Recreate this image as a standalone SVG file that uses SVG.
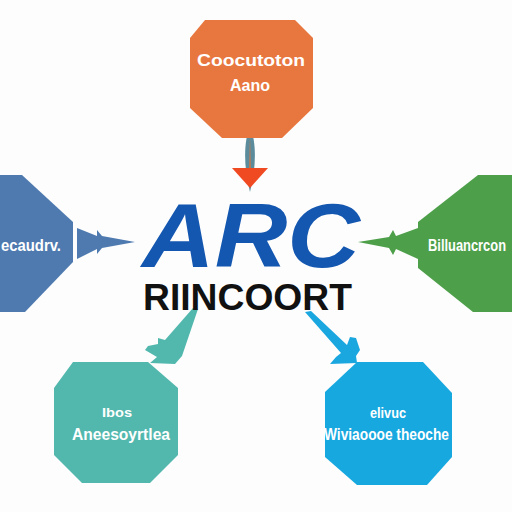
<svg xmlns="http://www.w3.org/2000/svg" width="512" height="512" viewBox="0 0 512 512">
<style>
.lbl{font-family:"Liberation Sans",Arial,sans-serif;font-weight:bold;fill:#ffffff;}
</style>
<rect width="512" height="512" fill="#fdfdfd"/>
<g id="connectors">
  <path d="M250,127 C256,140 257,165 250,192 C243,165 244,140 250,127 Z" fill="#5c8c9c"/>
  <path d="M250,135 L251,180 L249,180 Z" fill="#d8743f"/>
  <polygon points="232,168 268,168 250,188" fill="#f04a23"/>
  <polygon points="77,228 97,236 97,230 102,236 135,242 102,248 97,254 97,249 77,259" fill="#4e7ab0"/>
  <polygon points="418,228 396,236 393,230 389,237 358,242 389,248 393,255 396,249 418,259" fill="#4e9f4a"/>
  <polygon points="198,309 182,356 175,364 150,363 157,357 145,350 148,346 158,344 158,338 165,340 193,308" fill="#52b8ae"/>
  <polygon points="305,312 311,311 347,345 350,337 356,338 360,350 356,356 357,363 330,364 336,357 341,353" fill="#1aa7e0"/>
</g>
<g id="node-top">
  <polygon points="205,20 295,20 313,38 313,108 282,138 222,138 190,108 190,38" fill="#e8773f"/>
  <text class="lbl" x="251" y="66" font-size="17" text-anchor="middle" textLength="108" lengthAdjust="spacingAndGlyphs">Coocutoton</text>
  <text class="lbl" x="250" y="91" font-size="17" text-anchor="middle" textLength="40" lengthAdjust="spacingAndGlyphs">Aano</text>
</g>
<g id="node-left">
  <polygon points="-5,175 22,175 73,222 73,262 25,312 -5,312" fill="#4e7ab0"/>
  <text class="lbl" x="1" y="251" font-size="17" textLength="60" lengthAdjust="spacingAndGlyphs">ecaudrv.</text>
</g>
<g id="node-right">
  <polygon points="478,175 517,175 517,312 473,312 418,268 418,222" fill="#4e9f4a"/>
  <text class="lbl" x="428" y="251" font-size="16" textLength="78" lengthAdjust="spacingAndGlyphs">Billuancrcon</text>
</g>
<g id="node-center">
  <text x="142" y="267" font-family="'Liberation Sans',Arial,sans-serif" font-weight="bold" font-style="italic" font-size="90" fill="#1457b0" textLength="218" lengthAdjust="spacingAndGlyphs">ARC</text>
  <text x="143" y="310" font-family="'Liberation Sans',Arial,sans-serif" font-weight="bold" font-size="36" fill="#111111" textLength="209" lengthAdjust="spacingAndGlyphs">RIINCOORT</text>
</g>
<g id="node-bottom-left">
  <polygon points="73,362 148,362 178,388 178,455 150,483 82,483 54,455 54,388" fill="#52b8ae"/>
  <text class="lbl" x="117" y="417" font-size="12" text-anchor="middle" textLength="30" lengthAdjust="spacingAndGlyphs">Ibos</text>
  <text class="lbl" x="72" y="440" font-size="16" textLength="98" lengthAdjust="spacingAndGlyphs">Aneesoyrtlea</text>
</g>
<g id="node-bottom-right">
  <polygon points="357,362 423,362 452,393 452,457 427,485 357,485 325,457 325,392" fill="#17a8e0"/>
  <text class="lbl" x="388" y="418" font-size="14" text-anchor="middle" textLength="36" lengthAdjust="spacingAndGlyphs">elivuc</text>
  <text class="lbl" x="324" y="440" font-size="16" textLength="125" lengthAdjust="spacingAndGlyphs">Wiviaoooe theoche</text>
</g>
</svg>
